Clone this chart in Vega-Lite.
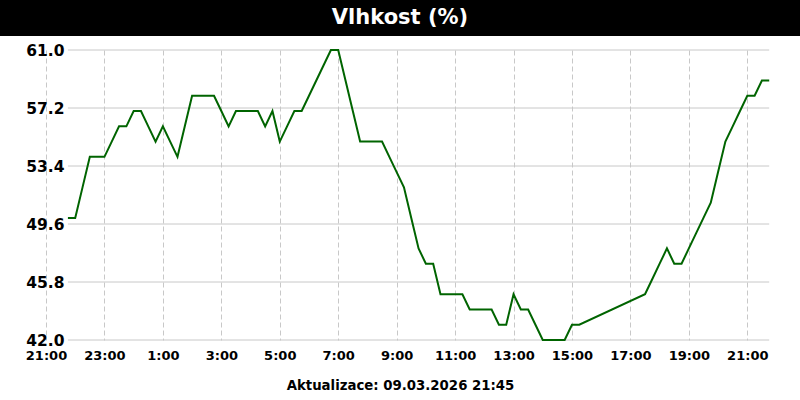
{
  "$schema": "https://vega.github.io/schema/vega-lite/v6.json",
  "padding": 0,
  "background": "white",
  "spacing": 14,
  "bounds": "flush",
  "config": {"font": "DejaVu Sans", "view": {"stroke": null}},
  "datasets": {
    "humidity": [
      {"t": "2026-03-08T21:45:00Z", "h": 50},
      {"t": "2026-03-08T22:00:00Z", "h": 50},
      {"t": "2026-03-08T22:15:00Z", "h": 52},
      {"t": "2026-03-08T22:30:00Z", "h": 54},
      {"t": "2026-03-08T22:45:00Z", "h": 54},
      {"t": "2026-03-08T23:00:00Z", "h": 54},
      {"t": "2026-03-08T23:15:00Z", "h": 55},
      {"t": "2026-03-08T23:30:00Z", "h": 56},
      {"t": "2026-03-08T23:45:00Z", "h": 56},
      {"t": "2026-03-09T00:00:00Z", "h": 57},
      {"t": "2026-03-09T00:15:00Z", "h": 57},
      {"t": "2026-03-09T00:30:00Z", "h": 56},
      {"t": "2026-03-09T00:45:00Z", "h": 55},
      {"t": "2026-03-09T01:00:00Z", "h": 56},
      {"t": "2026-03-09T01:15:00Z", "h": 55},
      {"t": "2026-03-09T01:30:00Z", "h": 54},
      {"t": "2026-03-09T01:45:00Z", "h": 56},
      {"t": "2026-03-09T02:00:00Z", "h": 58},
      {"t": "2026-03-09T02:15:00Z", "h": 58},
      {"t": "2026-03-09T02:30:00Z", "h": 58},
      {"t": "2026-03-09T02:45:00Z", "h": 58},
      {"t": "2026-03-09T03:00:00Z", "h": 57},
      {"t": "2026-03-09T03:15:00Z", "h": 56},
      {"t": "2026-03-09T03:30:00Z", "h": 57},
      {"t": "2026-03-09T03:45:00Z", "h": 57},
      {"t": "2026-03-09T04:00:00Z", "h": 57},
      {"t": "2026-03-09T04:15:00Z", "h": 57},
      {"t": "2026-03-09T04:30:00Z", "h": 56},
      {"t": "2026-03-09T04:45:00Z", "h": 57},
      {"t": "2026-03-09T05:00:00Z", "h": 55},
      {"t": "2026-03-09T05:15:00Z", "h": 56},
      {"t": "2026-03-09T05:30:00Z", "h": 57},
      {"t": "2026-03-09T05:45:00Z", "h": 57},
      {"t": "2026-03-09T06:00:00Z", "h": 58},
      {"t": "2026-03-09T06:15:00Z", "h": 59},
      {"t": "2026-03-09T06:30:00Z", "h": 60},
      {"t": "2026-03-09T06:45:00Z", "h": 61},
      {"t": "2026-03-09T07:00:00Z", "h": 61},
      {"t": "2026-03-09T07:15:00Z", "h": 59},
      {"t": "2026-03-09T07:30:00Z", "h": 57},
      {"t": "2026-03-09T07:45:00Z", "h": 55},
      {"t": "2026-03-09T08:00:00Z", "h": 55},
      {"t": "2026-03-09T08:15:00Z", "h": 55},
      {"t": "2026-03-09T08:30:00Z", "h": 55},
      {"t": "2026-03-09T08:45:00Z", "h": 54},
      {"t": "2026-03-09T09:00:00Z", "h": 53},
      {"t": "2026-03-09T09:15:00Z", "h": 52},
      {"t": "2026-03-09T09:30:00Z", "h": 50},
      {"t": "2026-03-09T09:45:00Z", "h": 48},
      {"t": "2026-03-09T10:00:00Z", "h": 47},
      {"t": "2026-03-09T10:15:00Z", "h": 47},
      {"t": "2026-03-09T10:30:00Z", "h": 45},
      {"t": "2026-03-09T10:45:00Z", "h": 45},
      {"t": "2026-03-09T11:00:00Z", "h": 45},
      {"t": "2026-03-09T11:15:00Z", "h": 45},
      {"t": "2026-03-09T11:30:00Z", "h": 44},
      {"t": "2026-03-09T11:45:00Z", "h": 44},
      {"t": "2026-03-09T12:00:00Z", "h": 44},
      {"t": "2026-03-09T12:15:00Z", "h": 44},
      {"t": "2026-03-09T12:30:00Z", "h": 43},
      {"t": "2026-03-09T12:45:00Z", "h": 43},
      {"t": "2026-03-09T13:00:00Z", "h": 45},
      {"t": "2026-03-09T13:15:00Z", "h": 44},
      {"t": "2026-03-09T13:30:00Z", "h": 44},
      {"t": "2026-03-09T13:45:00Z", "h": 43},
      {"t": "2026-03-09T14:00:00Z", "h": 42},
      {"t": "2026-03-09T14:15:00Z", "h": 42},
      {"t": "2026-03-09T14:30:00Z", "h": 42},
      {"t": "2026-03-09T14:45:00Z", "h": 42},
      {"t": "2026-03-09T15:00:00Z", "h": 43},
      {"t": "2026-03-09T15:15:00Z", "h": 43},
      {"t": "2026-03-09T17:30:00Z", "h": 45},
      {"t": "2026-03-09T17:45:00Z", "h": 46},
      {"t": "2026-03-09T18:00:00Z", "h": 47},
      {"t": "2026-03-09T18:15:00Z", "h": 48},
      {"t": "2026-03-09T18:30:00Z", "h": 47},
      {"t": "2026-03-09T18:45:00Z", "h": 47},
      {"t": "2026-03-09T19:00:00Z", "h": 48},
      {"t": "2026-03-09T19:15:00Z", "h": 49},
      {"t": "2026-03-09T19:30:00Z", "h": 50},
      {"t": "2026-03-09T19:45:00Z", "h": 51},
      {"t": "2026-03-09T20:00:00Z", "h": 53},
      {"t": "2026-03-09T20:15:00Z", "h": 55},
      {"t": "2026-03-09T20:30:00Z", "h": 56},
      {"t": "2026-03-09T20:45:00Z", "h": 57},
      {"t": "2026-03-09T21:00:00Z", "h": 58},
      {"t": "2026-03-09T21:15:00Z", "h": 58},
      {"t": "2026-03-09T21:30:00Z", "h": 59},
      {"t": "2026-03-09T21:45:00Z", "h": 59}
    ],
    "ygrid": [{"v": 42}, {"v": 45.8}, {"v": 49.6}, {"v": 53.4}, {"v": 57.2}, {"v": 61}]
  },
  "vconcat": [
    {
      "width": 800,
      "height": 36,
      "view": {"fill": "black", "stroke": null},
      "data": {"values": [{"label": "Vlhkost (%)"}]},
      "mark": {"type": "text", "color": "white", "fontSize": 21, "fontWeight": "bold", "font": "DejaVu Sans", "baseline": "middle", "align": "center"},
      "encoding": {"text": {"field": "label", "type": "nominal"}}
    },
    {
      "width": 800,
      "height": 290,
      "layer": [
        {
          "data": {"name": "ygrid"},
          "mark": {"type": "rule", "color": "#c8c8c8", "strokeWidth": 1},
          "encoding": {
            "x": {
              "datum": {"year": 2026, "month": 3, "date": 8, "hours": 21, "minutes": 45, "utc": true},
              "type": "temporal",
              "scale": {"type": "utc", "domain": [
                {"year": 2026, "month": 3, "date": 8, "hours": 19, "minutes": 25, "seconds": 33, "utc": true},
                {"year": 2026, "month": 3, "date": 9, "hours": 22, "minutes": 48, "seconds": 13, "utc": true}
              ]},
              "axis": {
                "values": [
                  {"year": 2026, "month": 3, "date": 8, "hours": 21, "utc": true},
                  {"year": 2026, "month": 3, "date": 8, "hours": 23, "utc": true},
                  {"year": 2026, "month": 3, "date": 9, "hours": 1, "utc": true},
                  {"year": 2026, "month": 3, "date": 9, "hours": 3, "utc": true},
                  {"year": 2026, "month": 3, "date": 9, "hours": 5, "utc": true},
                  {"year": 2026, "month": 3, "date": 9, "hours": 7, "utc": true},
                  {"year": 2026, "month": 3, "date": 9, "hours": 9, "utc": true},
                  {"year": 2026, "month": 3, "date": 9, "hours": 11, "utc": true},
                  {"year": 2026, "month": 3, "date": 9, "hours": 13, "utc": true},
                  {"year": 2026, "month": 3, "date": 9, "hours": 15, "utc": true},
                  {"year": 2026, "month": 3, "date": 9, "hours": 17, "utc": true},
                  {"year": 2026, "month": 3, "date": 9, "hours": 19, "utc": true},
                  {"year": 2026, "month": 3, "date": 9, "hours": 21, "utc": true}
                ],
                "format": "%-H:%M",
                "grid": true, "gridColor": "#c8c8c8", "gridDash": [5, 3], "gridWidth": 1,
                "ticks": false, "domain": false,
                "labelFont": "DejaVu Sans", "labelFontSize": 13, "labelFontWeight": "bold", "labelColor": "black",
                "labelPadding": 9, "labelFlush": false, "labelOverlap": false,
                "title": "Aktualizace: 09.03.2026 21:45",
                "titleFont": "DejaVu Sans", "titleFontSize": 13.3, "titleFontWeight": "bold", "titleColor": "black",
                "titlePadding": 16
              }
            },
            "x2": {"datum": {"year": 2026, "month": 3, "date": 9, "hours": 21, "minutes": 45, "utc": true}},
            "y": {
              "field": "v", "type": "quantitative",
              "scale": {"domain": [42, 61], "nice": false, "zero": false},
              "axis": {
                "values": [42, 45.8, 49.6, 53.4, 57.2, 61], "format": ".1f",
                "offset": -68, "labelPadding": 4, "ticks": false, "domain": false, "grid": false, "title": null,
                "labelFont": "DejaVu Sans", "labelFontSize": 15.5, "labelFontWeight": "bold", "labelColor": "black",
                "labelFlush": false, "labelOverlap": false
              }
            }
          }
        },
        {
          "data": {"name": "humidity"},
          "mark": {"type": "line", "color": "#006400", "strokeWidth": 2},
          "encoding": {
            "x": {"field": "t", "type": "temporal"},
            "y": {"field": "h", "type": "quantitative"}
          }
        }
      ]
    }
  ]
}
